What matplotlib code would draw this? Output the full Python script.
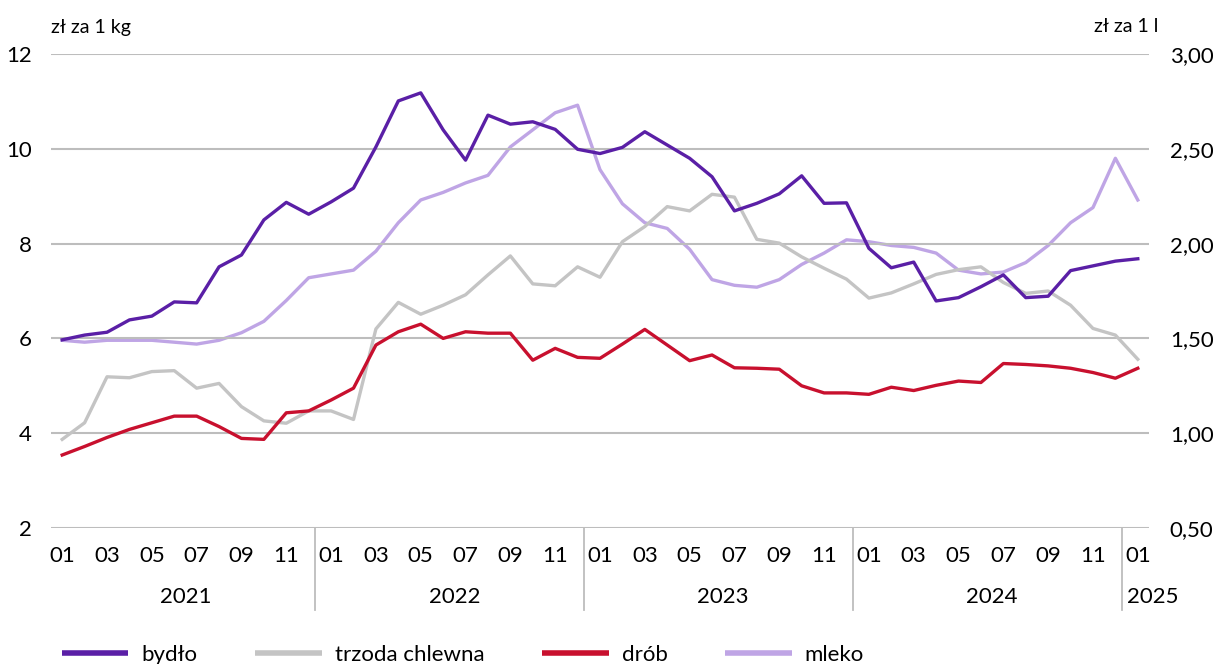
import matplotlib.pyplot as plt
import matplotlib.transforms as mtransforms
from matplotlib.ticker import FuncFormatter

# monthly prices 2021-01 .. 2025-01
months = ['%02d' % m for m in range(1, 13)] * 4 + ['01']
years = ['2021', '2022', '2023', '2024', '2025']

bydlo = [5.97, 6.07, 6.13, 6.39, 6.47, 6.77, 6.75, 7.51, 7.76, 8.50, 8.87, 8.62,
         8.88, 9.17, 10.04, 11.01, 11.18, 10.40, 9.76, 10.71, 10.52, 10.57, 10.41, 9.99,
         9.90, 10.03, 10.36, 10.08, 9.80, 9.41, 8.69, 8.85, 9.05, 9.43, 8.85, 8.86,
         7.90, 7.49, 7.61, 6.79, 6.86, 7.09, 7.34, 6.86, 6.89, 7.43, 7.53, 7.63,
         7.68]
trzoda = [3.87, 4.22, 5.19, 5.17, 5.30, 5.32, 4.95, 5.05, 4.56, 4.26, 4.21, 4.47,
          4.47, 4.29, 6.20, 6.76, 6.51, 6.70, 6.92, 7.34, 7.74, 7.15, 7.11, 7.51,
          7.29, 8.04, 8.36, 8.78, 8.69, 9.04, 8.98, 8.09, 8.01, 7.72, 7.48, 7.25,
          6.85, 6.96, 7.15, 7.35, 7.45, 7.51, 7.18, 6.95, 7.00, 6.70, 6.21, 6.07,
          5.56]
drob = [3.54, 3.72, 3.91, 4.08, 4.22, 4.36, 4.36, 4.14, 3.89, 3.87, 4.43, 4.47,
        4.70, 4.95, 5.86, 6.14, 6.30, 6.00, 6.14, 6.11, 6.11, 5.54, 5.79, 5.60,
        5.58, 5.88, 6.19, 5.86, 5.53, 5.65, 5.38, 5.37, 5.35, 5.00, 4.85, 4.85,
        4.82, 4.97, 4.90, 5.01, 5.10, 5.07, 5.47, 5.45, 5.42, 5.37, 5.28, 5.16,
        5.37]
mleko = [1.49, 1.48, 1.49, 1.49, 1.49, 1.48, 1.47, 1.49, 1.53, 1.59, 1.70, 1.82,
         1.84, 1.86, 1.96, 2.11, 2.23, 2.27, 2.32, 2.36, 2.51, 2.60, 2.69, 2.73,
         2.39, 2.21, 2.11, 2.08, 1.97, 1.81, 1.78, 1.77, 1.81, 1.89, 1.95, 2.02,
         2.01, 1.99, 1.98, 1.95, 1.86, 1.84, 1.85, 1.90, 1.99, 2.11, 2.19, 2.45,
         2.23]

plt.rcParams['font.family'] = ['Lato', 'DejaVu Sans']
plt.rcParams['font.size'] = 16

fig = plt.figure(figsize=(12.15, 6.64), dpi=100)
ax = fig.add_axes([51 / 1215, 1 - 528 / 664, 1098 / 1215, 474 / 664])
ax2 = ax.twinx()

x = list(range(len(months)))
c_bydlo = '#5a1fa6'
c_trzoda = '#c4c4c4'
c_drob = '#c8102e'
c_mleko = '#bfa5e5'
lw = 2.4

l1, = ax.plot(x, bydlo, color=c_bydlo, lw=lw, label='bydło', zorder=5)
l2, = ax.plot(x, trzoda, color=c_trzoda, lw=lw, label='trzoda chlewna', zorder=3)
l3, = ax.plot(x, drob, color=c_drob, lw=lw, label='drób', zorder=4)
l4, = ax2.plot(x, mleko, color=c_mleko, lw=lw, label='mleko', zorder=2)
ax.set_zorder(ax2.get_zorder() + 1)
ax.patch.set_visible(False)

ax.set_xlim(-0.5, len(months) - 0.5)
ax.set_ylim(2, 12)
ax.set_yticks([2, 4, 6, 8, 10, 12])
ax2.set_ylim(0.5, 3.0)
ax2.set_yticks([0.5, 1.0, 1.5, 2.0, 2.5, 3.0])
ax2.yaxis.set_major_formatter(FuncFormatter(lambda v, p: ('%.2f' % v).replace('.', ',')))

ax.grid(axis='y', color='#bdbdbd', lw=1.5)
ax.set_axisbelow(True)
for a in (ax, ax2):
    for s in a.spines.values():
        s.set_visible(False)
ax.tick_params(axis='y', length=0, pad=14)
ax2.tick_params(axis='y', length=0, pad=15)

ax.set_xticks(x[::2])
ax.set_xticklabels(months[::2])
ax.tick_params(axis='x', length=0, pad=13)

trans = mtransforms.blended_transform_factory(ax.transData, ax.transAxes)
for k in range(1, 5):
    xs = 12 * k - 0.72
    ax.plot([xs, xs], [0, -82 / 474], color='#bdbdbd', lw=1.3, transform=trans, clip_on=False)
for k, yr in enumerate(years[:4]):
    ax.text(12 * k + 5.5, -69 / 474, yr, transform=trans, ha='center', va='center')
ax.text(48 - 0.5, -69 / 474, years[4], transform=trans, ha='left', va='center')

fig.text(51 / 1215, 1 - 27 / 664, 'zł za 1 kg', fontsize=14, ha='left', va='center')
fig.text(1158 / 1215, 1 - 27 / 664, 'zł za 1 l', fontsize=14, ha='right', va='center')

fig.legend([l1, l2, l3, l4], ['bydło', 'trzoda chlewna', 'drób', 'mleko'],
           loc='center', bbox_to_anchor=(0.381, 1 - 655 / 664), ncol=4, frameon=False,
           handlelength=3.0, handletextpad=0.58, columnspacing=2.6)
for h in fig.legends[0].get_lines():
    h.set_linewidth(4)
    h.set_solid_capstyle('butt')

fig.savefig('out.png', dpi=100)
